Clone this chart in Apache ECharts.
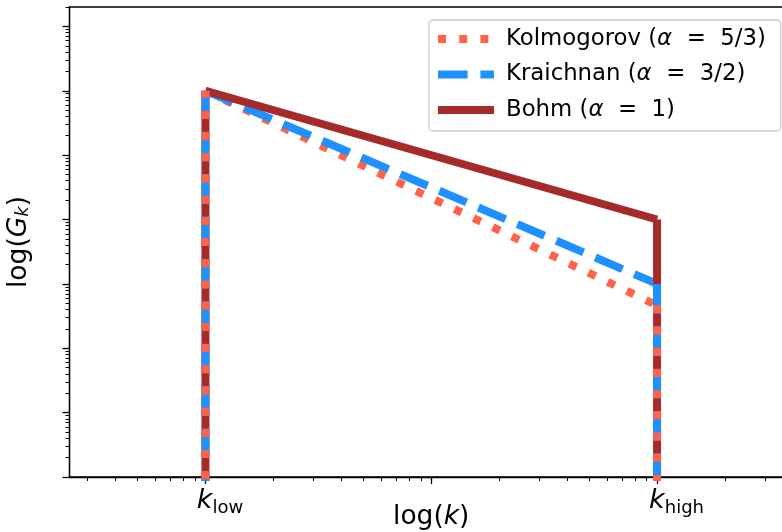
<!DOCTYPE html>
<html>
<head>
<meta charset="utf-8">
<script src="https://cdn.jsdelivr.net/npm/echarts@6/dist/echarts.min.js"></script>
<style>html,body{margin:0;padding:0;background:#fff;}#c{width:782px;height:532px;}</style>
</head>
<body>
<div id="c"></div>
<script>
// ---- data ----
const kPoints = [1, 100];                 // k_low, k_high
const kTickLabels = ['low', 'high'];      // subscripts of k tick labels
const kMajorTicks = [1, 10, 100];
const kMinorTicks = [0.3,0.4,0.5,0.6,0.7,0.8,0.9,2,3,4,5,6,7,8,9,20,30,40,50,60,70,80,90,200,300,400];
const gMajorTicks = [1e-6,1e-5,1e-4,1e-3,1e-2,1e-1,1,10];
const gMinorTicks = [];
[1e-6,1e-5,1e-4,1e-3,1e-2,1e-1,1,10].forEach(d => [2,3,4,5,6,7,8,9].forEach(m => gMinorTicks.push(+(d*m).toPrecision(3))));
const seriesNames = ['Kolmogorov (α = 5/3)', 'Kraichnan (α = 3/2)', 'Bohm (α = 1)'];
const kolmogorovG = [1, 4.64e-4];
const kraichnanG = [1, 1e-3];
const bohmG = [1, 1e-2];
const zeroG = 1e-9;  // "zero" level, below the axis minimum (clipped)

const xMin = 0.25, xMax = 400, yMin = 1e-6, yMax = 20;
const FONT = 'DejaVu Sans';

const styles = [
  {color: '#FF6347', type: [8, 13.2]},
  {color: '#1E90FF', type: [29.6, 12.8]},
  {color: '#A52A2A', type: 'solid'}
];
const values = [kolmogorovG, kraichnanG, bohmG];

function slopeSeries(i) {
  const g = values[i];
  return {
    name: seriesNames[i], type: 'line', xAxisIndex: 0, yAxisIndex: 0,
    data: [[kPoints[0], g[0]], [kPoints[1], g[1]]],
    symbol: 'none', silent: true, animation: false,
    lineStyle: {color: styles[i].color, width: 8, type: styles[i].type, cap: 'butt'},
    itemStyle: {color: styles[i].color}, z: 2 + i
  };
}
function vertSeries(i, z) {
  const g = values[i];
  return {
    name: seriesNames[i], type: 'line', xAxisIndex: 0, yAxisIndex: 0,
    data: [[kPoints[0], zeroG], [kPoints[0], g[0]], [kPoints[1], '-'], [kPoints[1], g[1]], [kPoints[1], zeroG]],
    connectNulls: false,
    symbol: 'none', silent: true, animation: false,
    lineStyle: {color: styles[i].color, width: 8, type: styles[i].type, cap: 'butt'},
    itemStyle: {color: styles[i].color}, z: z
  };
}

const gridPos = {left: 69.5, top: 7, right: -11, bottom: 55, outerBoundsMode: 'none', containLabel: false};
const labelPad = [29, 39];  // per-label horizontal shift of tick labels

const chart = echarts.init(document.getElementById('c'), null, {renderer: 'canvas'});
chart.setOption({
  animation: false,
  backgroundColor: '#fff',
  textStyle: {fontFamily: FONT},
  grid: [
    Object.assign({show: true, borderColor: '#000', borderWidth: 1.3, backgroundColor: 'transparent'}, gridPos),
    Object.assign({show: false}, gridPos)
  ],
  legend: {
    data: seriesNames,
    orient: 'vertical',
    left: 429, top: 20,
    padding: [7, 15, 9, 5],
    itemWidth: 56, itemHeight: 24, itemGap: 11.5,
    borderColor: '#cccccc', borderWidth: 1.3, borderRadius: 4,
    backgroundColor: 'rgba(255,255,255,0.8)',
    selectedMode: false,
    itemStyle: {color: 'transparent', borderWidth: 0, opacity: 0},
    lineStyle: {width: 8},
    textStyle: {fontFamily: FONT, fontSize: 22.8, color: '#000', padding: [0, 0, 0, 7], lineHeight: 24,
      rich: {i: {fontFamily: FONT, fontStyle: 'italic', fontSize: 22.8, lineHeight: 24}}},
    formatter: n => n.replace('α', '{i|α}').replace(' = ', '  =  ')
  },
  xAxis: [
    {
      type: 'log', gridIndex: 0, min: xMin, max: xMax, logBase: 10,
      axisLine: {show: true, onZero: false, lineStyle: {color: '#000', width: 1.3}},
      axisTick: {show: true, customValues: kMajorTicks, length: 7, lineStyle: {color: '#000', width: 1.3}},
      minorTick: {show: false},
      splitLine: {show: false},
      axisLabel: {
        show: true, customValues: kPoints, margin: 10, color: '#000', align: 'center',
        formatter: v => {
          const idx = kPoints.findIndex(p => Math.abs(p - v) < 1e-9 * p);
          return idx < 0 ? '' : '{k' + idx + '|k}{s|' + kTickLabels[idx] + '}';
        },
        rich: {
          k0: {fontFamily: FONT, fontStyle: 'italic', fontSize: 27, lineHeight: 30, verticalAlign: 'top', color: '#000', padding: [0, 0, 0, labelPad[0]]},
          k1: {fontFamily: FONT, fontStyle: 'italic', fontSize: 27, lineHeight: 30, verticalAlign: 'top', color: '#000', padding: [0, 0, 0, labelPad[1]]},
          s: {fontFamily: FONT, fontSize: 18, lineHeight: 18, verticalAlign: 'bottom', color: '#000'}
        }
      },
      name: '{n|log(}{i|k}{n|)}', nameLocation: 'middle', nameGap: 27, nameMoveOverlap: false,
      nameTextStyle: {
        rich: {
          n: {fontFamily: FONT, fontSize: 26.5, color: '#000'},
          i: {fontFamily: FONT, fontSize: 26.5, fontStyle: 'italic', color: '#000'}
        }
      }
    },
    {
      type: 'log', gridIndex: 1, min: xMin, max: xMax, logBase: 10,
      axisLine: {show: false, onZero: false},
      axisTick: {show: true, customValues: kMinorTicks, length: 4, lineStyle: {color: '#000', width: 1}},
      axisLabel: {show: false}, splitLine: {show: false}
    }
  ],
  yAxis: [
    {
      type: 'log', gridIndex: 0, min: yMin, max: yMax, logBase: 10,
      axisLine: {show: true, onZero: false, lineStyle: {color: '#000', width: 1.3}},
      axisTick: {show: true, customValues: gMajorTicks, length: 7, lineStyle: {color: '#000', width: 1.3}},
      axisLabel: {show: false}, splitLine: {show: false},
      name: '{n|log(}{i|G}{s|k}{n|)}', nameLocation: 'middle', nameGap: 37, nameRotate: 90, nameMoveOverlap: false,
      nameTextStyle: {
        rich: {
          n: {fontFamily: FONT, fontSize: 26.5, color: '#000'},
          i: {fontFamily: FONT, fontSize: 26.5, fontStyle: 'italic', color: '#000'},
          s: {fontFamily: FONT, fontSize: 18, fontStyle: 'italic', color: '#000', verticalAlign: 'bottom'}
        }
      }
    },
    {
      type: 'log', gridIndex: 1, min: yMin, max: yMax, logBase: 10,
      axisLine: {show: false, onZero: false},
      axisTick: {show: true, customValues: gMinorTicks, length: 4, lineStyle: {color: '#000', width: 1}},
      axisLabel: {show: false}, splitLine: {show: false}
    }
  ],
  series: [
    slopeSeries(0), slopeSeries(1), slopeSeries(2),
    vertSeries(2, 6), vertSeries(1, 7), vertSeries(0, 8)
  ]
});
</script>
</body>
</html>
